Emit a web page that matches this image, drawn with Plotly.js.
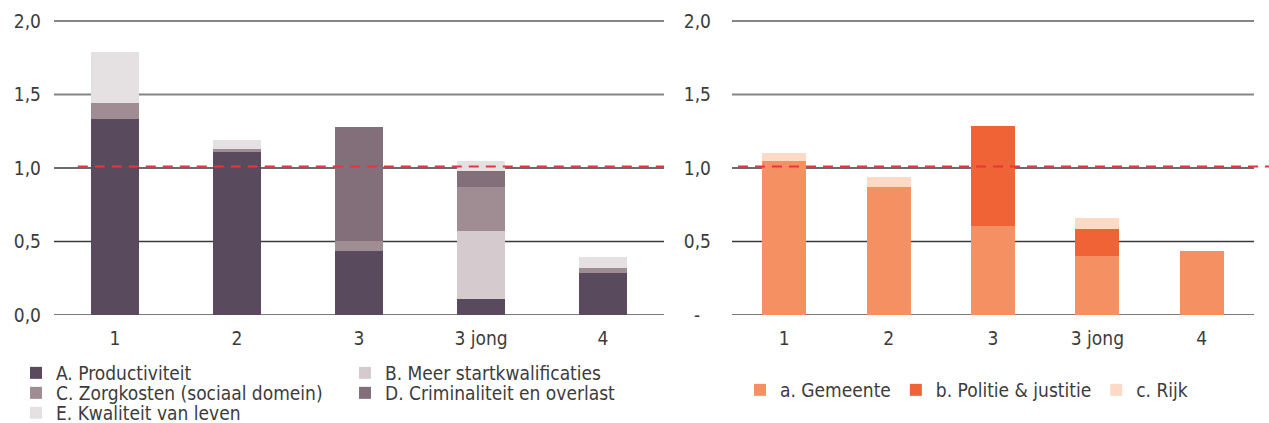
<!DOCTYPE html>
<html>
<head>
<meta charset="utf-8">
<script src="https://cdn.plot.ly/plotly-3.0.1.min.js"></script>
<style>
  html, body { margin: 0; padding: 0; background: #ffffff; }
  #chart { width: 1269px; height: 423px; }
</style>
</head>
<body>
<div id="chart"></div>
<script>
// ---------- data ----------
const categories = ["1", "2", "3", "3 jong", "4"];

// Left chart (baten per domein)
const productiviteit   = [1.333, 1.109, 0.435, 0.109, 0.286];
const startkwalificaties = [0, 0, 0, 0.463, 0];
const zorgkosten       = [0.109, 0.020, 0.068, 0.299, 0.034];
const criminaliteit    = [0, 0, 0.776, 0.109, 0];
const kwaliteitLeven   = [0.347, 0.061, 0, 0.068, 0.075];

// Right chart (baten per actor)
const gemeente = [1.048, 0.871, 0.605, 0.401, 0.435];
const politie  = [0, 0, 0.680, 0.184, 0];
const rijk     = [0.054, 0.068, 0, 0.075, 0];

const leftNames  = ["A. Productiviteit", "B. Meer startkwalificaties", "C. Zorgkosten (sociaal domein)", "D. Criminaliteit en overlast", "E. Kwaliteit van leven"];
const rightNames = ["a. Gemeente", "b. Politie & justitie", "c. Rijk"];

const yTickVals      = [0, 0.5, 1.0, 1.5, 2.0];
const leftTickText   = ["0,0", "0,5", "1,0", "1,5", "2,0"];
const rightTickText  = ["-\u00a0\u00a0", "0,5", "1,0", "1,5", "2,0"];
const referenceLine  = 1.01;

// ---------- styling ----------
const leftColors  = ["#594a5e", "#d5cbce", "#a08d94", "#836f7a", "#e5e1e3"];
const rightColors = ["#f59063", "#f06337", "#fddac6"];
const leftLegends = ["legend", "legend", "legend2", "legend2", "legend3"];
const FONT = "'DejaVu Sans Condensed', 'DejaVu Sans', sans-serif";
const TXT = "#3c3c3c";

const leftSeries = [productiviteit, startkwalificaties, zorgkosten, criminaliteit, kwaliteitLeven];
const rightSeries = [gemeente, politie, rijk];

const traces = [];
leftSeries.forEach((vals, i) => {
  traces.push({
    type: "bar", x: categories, y: vals, name: leftNames[i],
    xaxis: "x", yaxis: "y", width: 0.4,
    marker: { color: leftColors[i], line: { width: 0 } },
    legend: leftLegends[i], hoverinfo: "skip"
  });
});
rightSeries.forEach((vals, i) => {
  traces.push({
    type: "bar", x: categories, y: vals, name: rightNames[i],
    xaxis: "x2", yaxis: "y2", width: 0.42,
    marker: { color: rightColors[i], line: { width: 0 } },
    legend: "legend4", hoverinfo: "skip"
  });
});

// gridlines as shapes (two tones like the original)
const gridStyle = { 0: ["#7a7a7a", 2], 0.5: ["#3a3a3a", 1.5], 1: ["#3a3a3a", 1.5], 1.5: ["#858585", 2], 2: ["#858585", 2] };
const shapes = [];
[["x", "y"], ["x2", "y2"]].forEach(([xa, ya]) => {
  yTickVals.forEach(v => {
    const st = gridStyle[v];
    shapes.push({ type: "line", layer: "below", xref: xa + " domain", yref: ya,
      x0: 0, x1: 1, y0: v, y1: v, line: { color: st[0], width: st[1] } });
  });
});
shapes.push({ type: "line", layer: "above", xref: "x domain", yref: "y",
  x0: 0.039, x1: 1.0, y0: referenceLine, y1: referenceLine,
  line: { color: "#e8343c", width: 2, dash: "10px,7px" } });
shapes.push({ type: "line", layer: "above", xref: "x2 domain", yref: "y2",
  x0: 0.0115, x1: 1.03, y0: referenceLine, y1: referenceLine,
  line: { color: "#e8343c", width: 2, dash: "10px,7px" } });

const W = 1269, H = 423;
const axisFont = { family: FONT, size: 19, color: TXT };
const legendBase = {
  orientation: "h", xref: "container", yref: "container", traceorder: "normal",
  xanchor: "left", yanchor: "middle", bgcolor: "rgba(0,0,0,0)",
  font: { family: FONT, size: 19, color: TXT }, itemclick: false, itemdoubleclick: false
};

const layout = {
  width: W, height: H,
  margin: { l: 0, r: 0, t: 18, b: 108, pad: 0 },
  paper_bgcolor: "#ffffff", plot_bgcolor: "rgba(0,0,0,0)",
  barmode: "stack", showlegend: true, hovermode: false,
  font: { family: FONT, color: TXT },
  xaxis: { domain: [54 / W, 664 / W], type: "category", anchor: "y",
    showgrid: false, zeroline: false, showline: false, ticks: "",
    tickfont: axisFont, ticklabelstandoff: 10, fixedrange: true },
  yaxis: { domain: [0, 1], range: [0, 2.02], anchor: "x",
    showgrid: false, zeroline: false, showline: false, ticks: "",
    tickvals: yTickVals, ticktext: leftTickText, tickfont: axisFont,
    ticklabelstandoff: 12, fixedrange: true },
  xaxis2: { domain: [732 / W, 1254 / W], type: "category", anchor: "y2",
    showgrid: false, zeroline: false, showline: false, ticks: "",
    tickfont: axisFont, ticklabelstandoff: 10, fixedrange: true },
  yaxis2: { domain: [0, 1], range: [0, 2.02], anchor: "x2",
    showgrid: false, zeroline: false, showline: false, ticks: "",
    tickvals: yTickVals, ticktext: rightTickText, tickfont: axisFont,
    ticklabelstandoff: 20, fixedrange: true },
  legend:  Object.assign({}, legendBase, { x: 16 / W, y: 1 - 373 / H, entrywidth: 284, entrywidthmode: "pixels" }),
  legend2: Object.assign({}, legendBase, { x: 16 / W, y: 1 - 393 / H, entrywidth: 284, entrywidthmode: "pixels" }),
  legend3: Object.assign({}, legendBase, { x: 16 / W, y: 1 - 413 / H, entrywidth: 284, entrywidthmode: "pixels" }),
  legend4: Object.assign({}, legendBase, { x: 740 / W, y: 1 - 390 / H }),
  shapes: shapes
};

Plotly.newPlot("chart", traces, layout, { displayModeBar: false, staticPlot: true });
</script>
</body>
</html>
